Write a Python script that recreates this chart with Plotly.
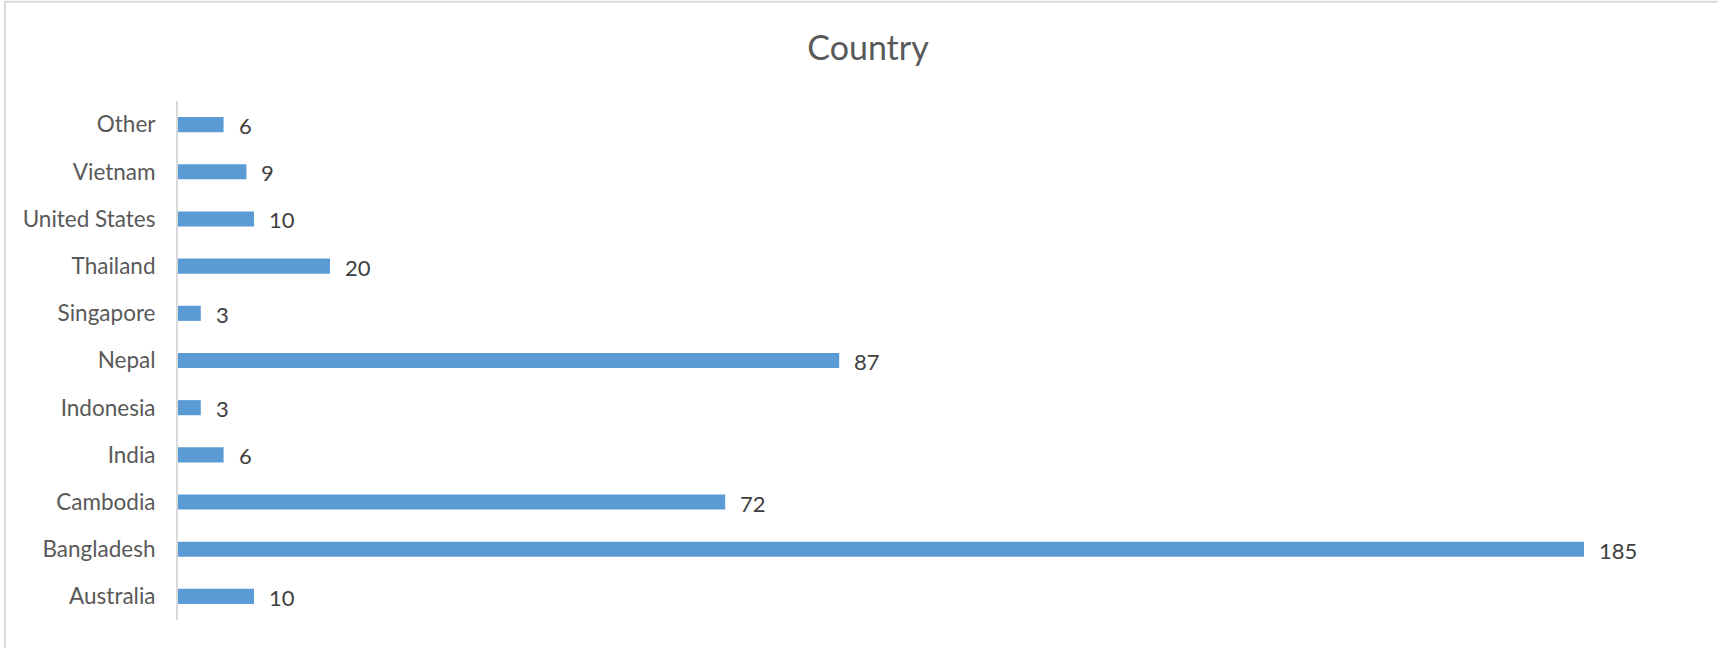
import plotly.graph_objects as go

categories = ["Australia", "Bangladesh", "Cambodia", "India", "Indonesia", "Nepal",
              "Singapore", "Thailand", "United States", "Vietnam", "Other"]
values = [10, 185, 72, 6, 3, 87, 3, 20, 10, 9, 6]

W, H = 1719, 648
L, R, T, B = 178, 21, 101, 28

fig = go.Figure()
fig.add_trace(go.Bar(
    x=values, y=categories, orientation="h",
    marker=dict(color="#5B9BD5", line=dict(width=0)),
    width=0.32, hoverinfo="x+y",
))

for c, v in zip(categories, values):
    fig.add_annotation(x=v, y=c, xref="x", yref="y", text=str(v), showarrow=False,
                       xanchor="left", yanchor="middle", xshift=13, yshift=-1,
                       font=dict(family="Lato, Liberation Sans, sans-serif", size=22, color="#404040"))

pw = W - L - R
ph = H - T - B
def px2x(px):
    return (px - L) / pw
def py2y(py):
    return (H - B - py) / ph

# chart frame (top and left edges visible)
fig.add_shape(type="line", xref="paper", yref="paper", x0=px2x(5), x1=px2x(1718),
              y0=py2y(1.8), y1=py2y(1.8), line=dict(color="#D9D9D9", width=2), layer="below")
fig.add_shape(type="line", xref="paper", yref="paper", x0=px2x(5), x1=px2x(5),
              y0=py2y(1), y1=py2y(648), line=dict(color="#D9D9D9", width=2), layer="below")

fig.update_layout(
    width=W, height=H,
    margin=dict(l=L, r=R, t=T, b=B, autoexpand=False),
    paper_bgcolor="white", plot_bgcolor="white",
    showlegend=False,
    title=dict(text="Country", x=868 / W, xanchor="center",
               y=1 - 48 / H, yanchor="middle",
               font=dict(family="Lato, Liberation Sans, sans-serif", size=34, color="#595959")),
    xaxis=dict(range=[0, 200], visible=False, showgrid=False, zeroline=False, fixedrange=True),
    yaxis=dict(categoryorder="array", categoryarray=categories, showgrid=False, zeroline=False,
               showline=True, linecolor="#D9D9D9", linewidth=2, ticks="",
               ticklabelstandoff=16,
               tickfont=dict(family="Lato, Liberation Sans, sans-serif", size=22.5, color="#595959")),
    bargap=0.68,
)

fig.write_html("out.html", config={"displayModeBar": False},
               post_script="document.body.style.margin='0';document.body.style.overflow='hidden';")
